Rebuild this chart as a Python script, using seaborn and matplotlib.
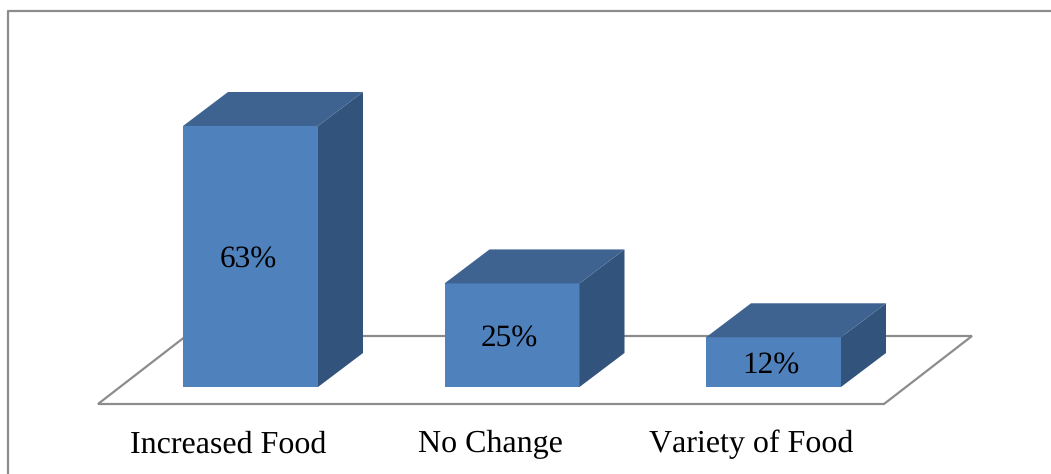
import matplotlib
matplotlib.use("Agg")
import matplotlib.pyplot as plt
from matplotlib.patches import Polygon
from matplotlib.lines import Line2D
from matplotlib.transforms import ScaledTranslation
import seaborn as sns
import pandas as pd

categories = ["Increased Food", "No Change", "Variety of Food"]
values = [63, 25, 12]
value_labels = ["63%", "25%", "12%"]

W, H = 1051, 474
FRONT, TOP, SIDE = "#4F81BD", "#3E6391", "#32547C"
GREY = "#8C8C8C"

sns.set_theme(style="white")
plt.rcParams["font.family"] = ["Liberation Serif", "DejaVu Serif"]
plt.rcParams["text.hinting"] = "none"
plt.rcParams["text.kerning_factor"] = 6

fig = plt.figure(figsize=(W / 100, H / 100), dpi=100, facecolor="white")
base_px, unit_px, step_px, c0_px = 387.0, 4.143, 261.5, 250.5
ax = fig.add_axes([0, 1 - base_px / H, 1, base_px / H])

df = pd.DataFrame({"category": categories, "value": values})
sns.barplot(data=df, x="category", y="value", color=FRONT, saturation=1,
            width=135 / step_px, ax=ax, zorder=3, linewidth=0)
ax.set_xlim(-c0_px / step_px, (W - c0_px) / step_px)
ax.set_ylim(0, base_px / unit_px)
ax.set_xlabel("")
ax.set_ylabel("")
ax.set_yticks([])
ax.tick_params(axis="x", length=0, pad=31, labelsize=23, labelcolor="black")
sns.despine(ax=ax, left=True, bottom=True, right=True, top=True)
ax.patch.set_alpha(0)

# category labels sit under the centre of the floor, left of the bar fronts
shift = ScaledTranslation(-22 / 100, 0, fig.dpi_scale_trans)
for tick_label in ax.get_xticklabels():
    tick_label.set_transform(tick_label.get_transform() + shift)

dx, dy = 45 / step_px, 34 / unit_px
for bar, label in zip(ax.patches, value_labels):
    x0, x1, h = bar.get_x(), bar.get_x() + bar.get_width(), bar.get_height()
    ax.add_patch(Polygon([(x0, h), (x1, h), (x1 + dx, h + dy), (x0 + dx, h + dy)],
                         closed=True, fc=TOP, ec="none", zorder=3, clip_on=False))
    ax.add_patch(Polygon([(x1, 0), (x1, h), (x1 + dx, h + dy), (x1 + dx, dy)],
                         closed=True, fc=SIDE, ec="none", zorder=3, clip_on=False))
    ax.annotate(label, ((x0 + x1) / 2, h / 2), xytext=(-1.7, -2.6),
                textcoords="offset points", ha="center", va="center",
                fontsize=22.5, color="black", zorder=5)


def fx(px):
    return px / W


def fy(py):
    return 1 - py / H


floor = Polygon([(fx(98), fy(404)), (fx(884), fy(404)), (fx(972), fy(336)), (fx(186), fy(336))],
                closed=True, fc="white", ec=GREY, lw=1.6, transform=fig.transFigure)
fig.add_artist(floor)
floor.set_zorder(-1)
fig.add_artist(Line2D([fx(7.5), fx(7.5), fx(W)], [fy(H), fy(10.5), fy(10.5)],
                      color=GREY, lw=1.6, transform=fig.transFigure, zorder=-1))

fig.savefig("out.png", dpi=100, facecolor="white")
